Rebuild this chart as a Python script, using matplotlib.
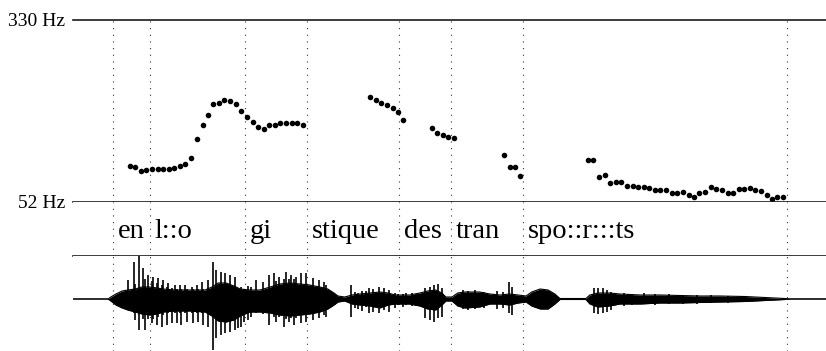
import matplotlib
matplotlib.use('Agg')
import matplotlib.pyplot as plt
from matplotlib.ticker import NullLocator
import matplotlib.transforms as mtransforms

plt.rcParams['font.family'] = 'Liberation Serif'

# --- data -------------------------------------------------------------
# pitch track (time in s, F0 in Hz), one list per voiced stretch
pitch_t1 = [0.101, 0.110, 0.120, 0.130, 0.140, 0.150, 0.160, 0.170, 0.179, 0.189,
            0.199, 0.209, 0.219, 0.230, 0.239, 0.248, 0.258, 0.268, 0.278, 0.288,
            0.298, 0.308, 0.318, 0.328, 0.338, 0.347, 0.358, 0.367, 0.377, 0.387,
            0.397, 0.407]
pitch_f1 = [74.9, 74.4, 71.2, 72.0, 72.7, 72.9, 72.9, 72.5, 73.2, 74.9,
            76.7, 81.5, 98.3, 113.3, 126.2, 141.1, 142.1, 146.5, 145.4, 140.2,
            131.0, 123.3, 116.8, 111.7, 109.5, 113.7, 113.7, 115.6, 116.0, 116.0,
            115.6, 113.3]
pitch_t2 = [0.526, 0.536, 0.546, 0.556, 0.566, 0.576, 0.585]
pitch_f2 = [150.6, 146.5, 142.5, 139.7, 134.6, 130.1, 119.6]
pitch_t3 = [0.635, 0.645, 0.655, 0.664, 0.674]
pitch_f3 = [109.9, 104.5, 103.0, 100.3, 99.3]
pitch_t4 = [0.763, 0.773, 0.783, 0.792]
pitch_f4 = [83.5, 74.4, 74.4, 67.9]
pitch_t5 = [0.911, 0.921, 0.931, 0.941, 0.951, 0.961, 0.970, 0.981, 0.991, 1.001,
            1.011, 1.020, 1.030, 1.040, 1.050, 1.060, 1.070, 1.080, 1.090, 1.099,
            1.109, 1.119, 1.129, 1.139, 1.149, 1.159, 1.169, 1.179, 1.188, 1.198,
            1.208, 1.218, 1.228, 1.238, 1.247, 1.257]
pitch_f5 = [79.9, 79.4, 67.0, 68.4, 63.3, 63.5, 63.5, 61.4, 61.4, 60.6,
            60.6, 59.9, 58.9, 58.6, 58.6, 56.8, 57.1, 57.6, 55.7, 54.7,
            57.1, 57.4, 60.4, 59.5, 58.7, 57.0, 56.8, 59.3, 59.3, 60.1,
            58.9, 58.0, 55.7, 53.4, 54.9, 54.7]

# syllable boundaries (s) and labels
boundaries = [0.0708, 0.1357, 0.3044, 0.4142, 0.5770, 0.6685, 0.7970, 1.2632]
syllables = ['en', 'l::o', 'gi', 'stique', 'des', 'tran', 'spo::r:::ts']

# waveform envelope (time, upper, lower amplitude)
env_t = [0.000, 0.062, 0.067, 0.076, 0.087, 0.097, 0.110, 0.122, 0.136, 0.149,
         0.159, 0.181, 0.207, 0.234, 0.246, 0.257, 0.271, 0.285, 0.296, 0.313,
         0.331, 0.349, 0.366, 0.384, 0.402, 0.419, 0.437, 0.451, 0.462, 0.469,
         0.481, 0.494, 0.508, 0.526, 0.543, 0.558, 0.570, 0.596, 0.614, 0.628,
         0.642, 0.653, 0.660, 0.671, 0.681, 0.694, 0.720, 0.738, 0.756, 0.773,
         0.788, 0.802, 0.812, 0.827, 0.841, 0.853, 0.862, 0.908, 0.915, 0.929,
         0.950, 0.968, 1.004, 1.039, 1.074, 1.110, 1.145, 1.189, 1.225, 1.260,
         1.269, 1.333]
env_up = [0, 0, 0.04, 0.10, 0.16, 0.18, 0.20, 0.24, 0.24, 0.22,
          0.20, 0.18, 0.18, 0.18, 0.24, 0.32, 0.32, 0.26, 0.20, 0.18,
          0.18, 0.24, 0.30, 0.32, 0.30, 0.28, 0.24, 0.20, 0.12, 0.06,
          0.04, 0.08, 0.10, 0.12, 0.14, 0.12, 0.08, 0.08, 0.12, 0.16,
          0.18, 0.12, 0.04, 0.04, 0.12, 0.14, 0.14, 0.10, 0.08, 0.10,
          0.08, 0.06, 0.14, 0.20, 0.18, 0.10, 0.01, 0.01, 0.08, 0.12,
          0.12, 0.10, 0.08, 0.08, 0.07, 0.06, 0.06, 0.05, 0.03, 0.01,
          0, 0]
env_down = [0, 0, 0.04, 0.12, 0.18, 0.22, 0.26, 0.30, 0.32, 0.30,
            0.26, 0.24, 0.24, 0.26, 0.34, 0.44, 0.46, 0.42, 0.34, 0.26,
            0.26, 0.28, 0.32, 0.34, 0.32, 0.30, 0.26, 0.20, 0.12, 0.06,
            0.04, 0.10, 0.12, 0.14, 0.18, 0.12, 0.10, 0.10, 0.14, 0.20,
            0.22, 0.12, 0.04, 0.04, 0.14, 0.18, 0.16, 0.10, 0.10, 0.12,
            0.08, 0.06, 0.14, 0.20, 0.20, 0.10, 0.01, 0.01, 0.10, 0.16,
            0.14, 0.10, 0.10, 0.08, 0.08, 0.07, 0.06, 0.05, 0.03, 0.01,
            0, 0]

# strongest pulses (time, peak up, peak down)
spike_t = [0.083, 0.095, 0.098, 0.108, 0.110, 0.117, 0.124, 0.127, 0.133, 0.139,
           0.142, 0.148, 0.151, 0.157, 0.160, 0.166, 0.169, 0.175, 0.181, 0.184,
           0.189, 0.192, 0.198, 0.201, 0.210, 0.213, 0.219, 0.222, 0.228, 0.231,
           0.239, 0.248, 0.254, 0.262, 0.269, 0.278, 0.286,
           0.292, 0.297, 0.303, 0.309, 0.315, 0.324, 0.336, 0.347, 0.356, 0.359,
           0.365, 0.374, 0.377, 0.383, 0.386, 0.392, 0.395, 0.404, 0.412, 0.424,
           0.436, 0.445, 0.448, 0.492, 0.500, 0.505, 0.512, 0.518, 0.524, 0.531,
           0.541, 0.550, 0.559, 0.570, 0.575, 0.584, 0.590, 0.600, 0.608,
           0.624, 0.632, 0.639, 0.647, 0.653,
           0.690, 0.700, 0.712, 0.728, 0.750, 0.761, 0.771, 0.777,
           0.922, 0.930, 0.938, 0.946, 0.953,
           0.975, 0.990, 1.010, 1.030, 1.055, 1.080, 1.105, 1.130, 1.160]
spike_up = [0.06, 0.16, 0.38, 0.74, 0.30, 0.86, 0.62, 0.40, 0.48, 0.36,
            0.44, 0.32, 0.42, 0.28, 0.38, 0.24, 0.32, 0.22, 0.28, 0.20,
            0.28, 0.20, 0.28, 0.20, 0.24, 0.20, 0.28, 0.20, 0.34, 0.20,
            0.38, 0.74, 0.58, 0.54, 0.52, 0.48, 0.44,
            0.20, 0.24, 0.20, 0.26, 0.24, 0.38, 0.34, 0.48, 0.52, 0.36,
            0.44, 0.40, 0.54, 0.40, 0.48, 0.40, 0.44, 0.52, 0.52, 0.42,
            0.38, 0.34, 0.28, 0.28, 0.14, 0.12, 0.16, 0.16, 0.22, 0.20,
            0.24, 0.22, 0.18, 0.12, 0.10, 0.10, 0.12, 0.12, 0.10,
            0.22, 0.24, 0.28, 0.30, 0.22,
            0.18, 0.16, 0.18, 0.14, 0.16, 0.14, 0.34, 0.24,
            0.22, 0.22, 0.22, 0.18, 0.14,
            0.12, 0.10, 0.12, 0.10, 0.10, 0.09, 0.08, 0.08, 0.07]
spike_down = [0.12, 0.22, 0.20, 0.28, 0.42, 0.62, 0.40, 0.62, 0.40, 0.48,
              0.40, 0.52, 0.36, 0.56, 0.32, 0.52, 0.28, 0.48, 0.28, 0.48,
              0.28, 0.52, 0.28, 0.46, 0.28, 0.48, 0.28, 0.46, 0.28, 0.52,
              0.56, 1.02, 0.78, 0.72, 0.68, 0.66, 0.62,
              0.58, 0.56, 0.46, 0.42, 0.36, 0.28, 0.30, 0.52, 0.36, 0.46,
              0.36, 0.56, 0.40, 0.46, 0.38, 0.52, 0.38, 0.48, 0.46, 0.42,
              0.38, 0.32, 0.36, 0.36, 0.18, 0.20, 0.24, 0.16, 0.28, 0.26,
              0.28, 0.22, 0.26, 0.18, 0.12, 0.16, 0.12, 0.14, 0.14,
              0.38, 0.42, 0.46, 0.38, 0.36,
              0.20, 0.22, 0.20, 0.18, 0.20, 0.18, 0.28, 0.32,
              0.28, 0.30, 0.28, 0.26, 0.22,
              0.14, 0.12, 0.10, 0.12, 0.10, 0.10, 0.09, 0.08, 0.07]

T_END = 1.333

# --- figure -----------------------------------------------------------
fig = plt.figure(figsize=(8.26, 3.51), dpi=100)
left = 73 / 826.
ax_p = fig.add_axes([left, 149 / 351., 1 - left, 182 / 351.])
ax_t = fig.add_axes([left, 95 / 351., 1 - left, 54 / 351.])
ax_w = fig.add_axes([left, 0.0, 1 - left, 95 / 351.])

for ax in (ax_p, ax_t, ax_w):
    ax.set_xlim(0, T_END)
    ax.set_xticks([])
    for s in ax.spines.values():
        s.set_visible(False)
    for b in boundaries:
        ax.axvline(b, color='0.2', lw=0.8, ls=(0, (1, 5)), zorder=0)

# pitch
ax_p.set_yscale('log')
ax_p.set_ylim(52, 330)
for tt, ff in [(pitch_t1, pitch_f1), (pitch_t2, pitch_f2), (pitch_t3, pitch_f3),
               (pitch_t4, pitch_f4), (pitch_t5, pitch_f5)]:
    ax_p.plot(tt, ff, 'o', color='k', markersize=4.0, markeredgewidth=0)
ax_p.yaxis.set_minor_locator(NullLocator())
ax_p.set_yticks([52, 330])
ax_p.set_yticklabels(['52 Hz', '330 Hz'], fontsize=14)
ax_p.tick_params(axis='y', length=0, pad=5.5)
for side in ('top', 'bottom'):
    ax_p.spines[side].set_visible(True)
    ax_p.spines[side].set_linewidth(1.2)
    ax_p.spines[side].set_color('0.1')

# syllables
ax_t.set_ylim(0, 1)
ax_t.set_yticks([])
ax_t.spines['bottom'].set_visible(True)
ax_t.spines['bottom'].set_linewidth(1.2)
ax_t.spines['bottom'].set_color('0.1')
offs = mtransforms.offset_copy(ax_t.transData, fig=fig, x=3.3, y=0, units='points')
for b, lab in zip(boundaries[:-1], syllables):
    ax_t.text(b, 0.33, lab, transform=mtransforms.blended_transform_factory(
        offs, ax_t.transAxes), fontsize=20.5, va='baseline', ha='left')

# waveform
ax_w.set_ylim(-1.04, 0.86)
ax_w.set_yticks([])
ax_w.fill_between(env_t, env_up, [-d for d in env_down], color='k', lw=0)
ax_w.plot(env_t, env_up, color='k', lw=0.8)
ax_w.plot(env_t, [-d for d in env_down], color='k', lw=0.8)
ax_w.vlines(spike_t, [-d for d in spike_down], spike_up, color='k', lw=1.2)

plt.savefig('out.png', dpi=100)
